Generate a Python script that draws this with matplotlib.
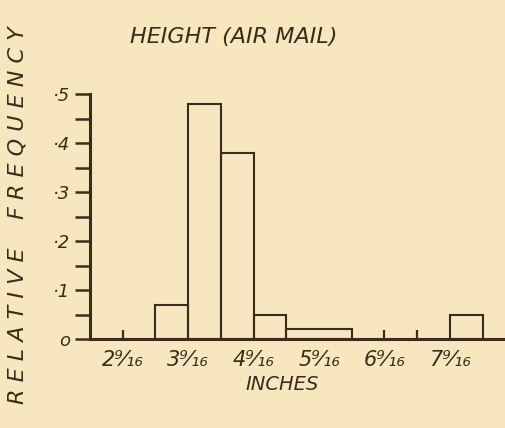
import matplotlib
matplotlib.use("Agg")
import matplotlib.pyplot as plt

# Data (inches, relative frequency); bins are half-inch wide
bin_left = [3.0625, 3.5625, 4.0625, 4.5625, 5.0625, 7.5625]
bin_width = [0.5, 0.5, 0.5, 0.5, 1.0, 0.5]
rel_freq = [0.07, 0.48, 0.38, 0.05, 0.02, 0.05]

xtick_pos = [2.5625, 3.5625, 4.5625, 5.5625, 6.5625, 7.5625]
xtick_labels = ["2⁹⁄₁₆", "3⁹⁄₁₆", "4⁹⁄₁₆", "5⁹⁄₁₆", "6⁹⁄₁₆", "7⁹⁄₁₆"]
tick_marks_x = [2.5625, 6.5625, 7.0625]
ytick_pos = [0, 0.1, 0.2, 0.3, 0.4, 0.5]
ytick_labels = ["o", "·1", "·2", "·3", "·4", "·5"]
ytick_minor = [0.05, 0.15, 0.25, 0.35, 0.45]

bg = "#f8e6bf"
ink = "#3b2b1c"

fig = plt.figure(figsize=(5.06, 4.28), dpi=100, facecolor=bg)
ax = fig.add_axes([90/506, (428-339)/428, 416/506, 245/428])
ax.set_facecolor(bg)

ax.bar(bin_left, rel_freq, width=bin_width, align="edge",
       facecolor="none", edgecolor=ink, linewidth=1.5)
ax.vlines(tick_marks_x, 0, 0.018, color=ink, linewidth=1.6)

ax.set_xlim(2.0625, 8.42)
ax.set_ylim(0, 0.5)
for s in ["top", "right"]:
    ax.spines[s].set_visible(False)
for s in ["left", "bottom"]:
    ax.spines[s].set_color(ink)
    ax.spines[s].set_linewidth(2.2)
ax.spines["left"].set_capstyle("projecting")

ax.set_yticks(ytick_pos)
ax.set_yticklabels(ytick_labels, fontsize=13, color=ink, style="italic")
ax.set_yticks(ytick_minor, minor=True)
ax.tick_params(axis="y", which="both", direction="out", length=11, width=1.8,
               color=ink, pad=3)

ax.set_xticks(xtick_pos)
ax.set_xticklabels(xtick_labels, fontsize=15, color=ink, style="italic")
ax.tick_params(axis="x", which="major", length=0, pad=8)

fig.text(130/506, 1-37/428, "HEIGHT (AIR MAIL)", fontsize=16, color=ink,
         style="italic", ha="left", va="center")
fig.text(282/506, 1-385/428, "INCHES", fontsize=14, color=ink,
         style="italic", ha="center", va="center")
fig.text(18/506, 1-215/428, "R E L A T I V E    F R E Q U E N C Y", fontsize=16,
         color=ink, style="italic", rotation=90, ha="center", va="center")

fig.savefig("out.png", dpi=100, facecolor=bg)
